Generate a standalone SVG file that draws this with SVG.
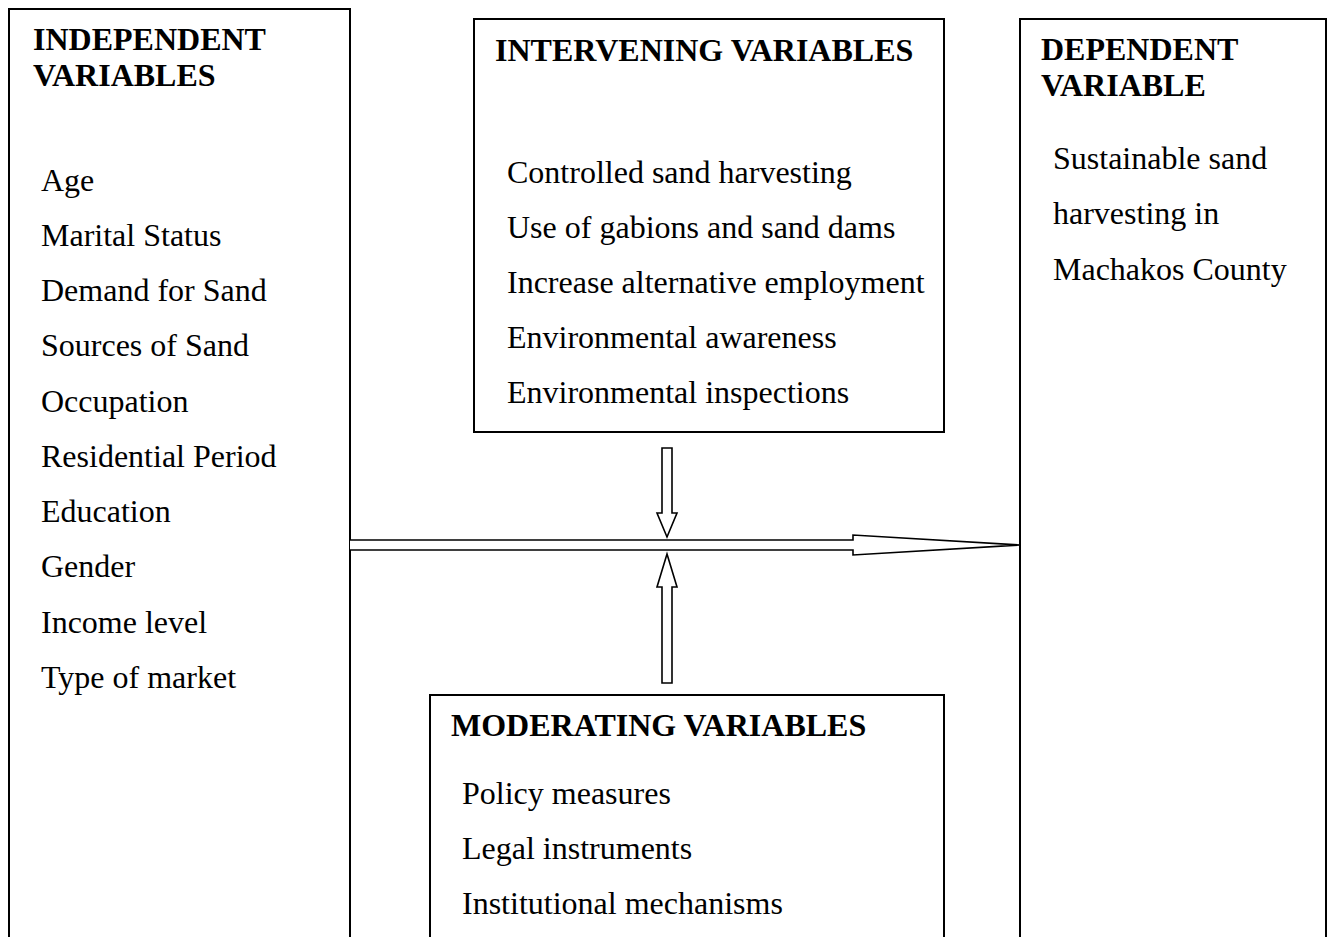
<svg xmlns="http://www.w3.org/2000/svg" width="1330" height="937" viewBox="0 0 1330 937">
<style>
.box{fill:none;stroke:#000;stroke-width:2}
.arr{fill:#fff;stroke:#000;stroke-width:1.6;stroke-linejoin:miter}
.t{font-family:"Liberation Serif","Times New Roman",serif;font-size:32px;fill:#000}
.h{font-family:"Liberation Serif","Times New Roman",serif;font-size:32px;font-weight:bold;fill:#000}
</style>
<rect width="1330" height="937" fill="#fff"/>
<g id="independent">
<path class="box" d="M9,945 V9 H350 V945"/>
<text class="h" x="33" y="50">INDEPENDENT</text>
<text class="h" x="33" y="86">VARIABLES</text>
<text class="t" x="41" y="191">Age</text>
<text class="t" x="41" y="246">Marital Status</text>
<text class="t" x="41" y="301">Demand for Sand</text>
<text class="t" x="41" y="356">Sources of Sand</text>
<text class="t" x="41" y="412">Occupation</text>
<text class="t" x="41" y="467">Residential Period</text>
<text class="t" x="41" y="522">Education</text>
<text class="t" x="41" y="577">Gender</text>
<text class="t" x="41" y="633">Income level</text>
<text class="t" x="41" y="688">Type of market</text>
</g>
<g id="intervening">
<rect class="box" x="474" y="19" width="470" height="413"/>
<text class="h" x="495" y="61">INTERVENING VARIABLES</text>
<text class="t" x="507" y="183">Controlled sand harvesting</text>
<text class="t" x="507" y="238">Use of gabions and sand dams</text>
<text class="t" x="507" y="293">Increase alternative employment</text>
<text class="t" x="507" y="348">Environmental awareness</text>
<text class="t" x="507" y="403">Environmental inspections</text>
</g>
<g id="dependent">
<path class="box" d="M1020,945 V19 H1326 V945"/>
<text class="h" x="1041" y="60">DEPENDENT</text>
<text class="h" x="1041" y="96">VARIABLE</text>
<text class="t" x="1053" y="169">Sustainable sand</text>
<text class="t" x="1053" y="224">harvesting in</text>
<text class="t" x="1053" y="280">Machakos County</text>
</g>
<g id="moderating">
<path class="box" d="M430,945 V695 H944 V945"/>
<text class="h" x="451" y="736">MODERATING VARIABLES</text>
<text class="t" x="462" y="804">Policy measures</text>
<text class="t" x="462" y="859">Legal instruments</text>
<text class="t" x="462" y="914">Institutional mechanisms</text>
</g>
<g id="connectors">
<path class="arr" d="M350,540 H853 V535 L1020,545 L853,555 V550 H350"/>
<path class="arr" d="M662,448 H672 V513 H677 L667,537 L657,513 H662 Z"/>
<path class="arr" d="M667,554 L677,587 H672 V683 H662 V587 H657 Z"/>
</g>
</svg>
